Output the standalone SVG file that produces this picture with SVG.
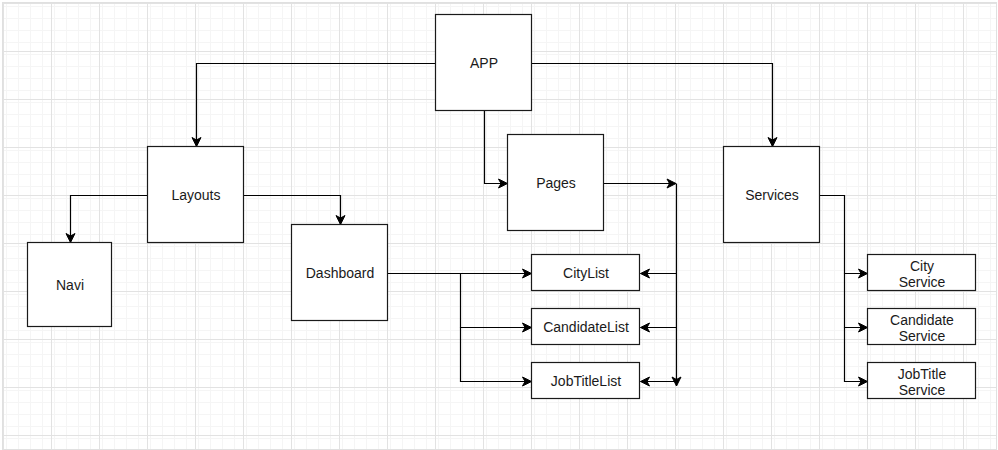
<svg xmlns="http://www.w3.org/2000/svg" width="998" height="450" viewBox="0 0 998 450">
  <style>
    .box { fill: #ffffff; stroke: #1a1a1a; stroke-width: 1.2; }
    .lbl { font-family: "Liberation Sans", Arial, Helvetica, sans-serif; font-size: 14px; fill: #1a1a1a; text-anchor: middle; dominant-baseline: central; }
    .edge { fill: none; stroke: #000000; stroke-width: 1.2; }
  </style>
  <defs>
    <pattern id="minor" x="3" y="3" width="12" height="12" patternUnits="userSpaceOnUse">
      <path d="M0.5,0 V12 M0,0.5 H12" fill="none" stroke="#f5f5f5" stroke-width="1"/>
    </pattern>
    <pattern id="major" x="3" y="3" width="48" height="48" patternUnits="userSpaceOnUse">
      <rect width="48" height="48" fill="url(#minor)"/>
      <path d="M0.5,0 V48 M0,0.5 H48" fill="none" stroke="#e2e2e2" stroke-width="1"/>
    </pattern>
    <marker id="arrow" markerUnits="userSpaceOnUse" markerWidth="12" markerHeight="12" viewBox="-10 -6 12 12" refX="0" refY="0" orient="auto">
      <path d="M0,0 L-9,-4.5 L-6.5,0 L-9,4.5 Z" fill="#000000" stroke="#000000" stroke-width="1" stroke-linejoin="miter"/>
    </marker>
  </defs>

  <rect x="0" y="0" width="998" height="450" fill="#ffffff"/>
  <rect x="3" y="3" width="993" height="446" fill="url(#major)"/>
  <rect x="2.5" y="2.5" width="994" height="447" fill="none" stroke="#e0e0e0" stroke-width="1"/>

  <g id="connectors">
    <path class="edge" d="M435.5,63.5 H196.5 V146.5" marker-end="url(#arrow)"/>
    <path class="edge" d="M531.5,63.5 H772.5 V146.5" marker-end="url(#arrow)"/>
    <path class="edge" d="M484.5,111 V183.5 H507.5" marker-end="url(#arrow)"/>
    <path class="edge" d="M147.5,195.5 H70.5 V242.5" marker-end="url(#arrow)"/>
    <path class="edge" d="M243.5,195.5 H340.5 V224.5" marker-end="url(#arrow)"/>
    <path class="edge" d="M603.5,183.5 H676" marker-end="url(#arrow)"/>
    <path class="edge" d="M676.5,183.5 V386" marker-end="url(#arrow)"/>
    <path class="edge" d="M676.5,273.5 H640.5" marker-end="url(#arrow)"/>
    <path class="edge" d="M676.5,327.5 H640.5" marker-end="url(#arrow)"/>
    <path class="edge" d="M676.5,381.5 H640.5" marker-end="url(#arrow)"/>
    <path class="edge" d="M388,273.5 H460.5 H531.5" stroke-width="1.6" marker-end="url(#arrow)"/>
    <path class="edge" d="M460.5,273.5 V327.5 H531.5" marker-end="url(#arrow)"/>
    <path class="edge" d="M460.5,327.5 V381.5 H531.5" marker-end="url(#arrow)"/>
    <path class="edge" d="M820,195.5 H844.5 V273.5 H867.5" stroke-width="1.6" marker-end="url(#arrow)"/>
    <path class="edge" d="M844.5,273.5 V327.5 H867.5" marker-end="url(#arrow)"/>
    <path class="edge" d="M844.5,327.5 V381.5 H867.5" marker-end="url(#arrow)"/>
  </g>

  <g id="app">
    <rect class="box" x="435.5" y="14.5" width="96" height="96"/>
    <text class="lbl" x="484" y="63">APP</text>
  </g>
  <g id="layouts">
    <rect class="box" x="147.5" y="146.5" width="96" height="96"/>
    <text class="lbl" x="196" y="195">Layouts</text>
  </g>
  <g id="navi">
    <rect class="box" x="27.5" y="242.5" width="84" height="84"/>
    <text class="lbl" x="70" y="285">Navi</text>
  </g>
  <g id="dashboard">
    <rect class="box" x="291.5" y="224.5" width="96" height="96"/>
    <text class="lbl" x="340" y="273">Dashboard</text>
  </g>
  <g id="pages">
    <rect class="box" x="507.5" y="134.5" width="96" height="96"/>
    <text class="lbl" x="556" y="183">Pages</text>
  </g>
  <g id="services">
    <rect class="box" x="723.5" y="146.5" width="96" height="96"/>
    <text class="lbl" x="772" y="195">Services</text>
  </g>
  <g id="citylist">
    <rect class="box" x="531.5" y="254.5" width="108" height="36"/>
    <text class="lbl" x="586" y="273">CityList</text>
  </g>
  <g id="candidatelist">
    <rect class="box" x="531.5" y="308.5" width="108" height="36"/>
    <text class="lbl" x="586" y="327">CandidateList</text>
  </g>
  <g id="jobtitlelist">
    <rect class="box" x="531.5" y="362.5" width="108" height="36"/>
    <text class="lbl" x="586" y="381">JobTitleList</text>
  </g>
  <g id="cityservice">
    <rect class="box" x="867.5" y="254.5" width="108" height="36"/>
    <text class="lbl" x="922" y="265.5">City</text>
    <text class="lbl" x="922" y="282">Service</text>
  </g>
  <g id="candidateservice">
    <rect class="box" x="867.5" y="308.5" width="108" height="36"/>
    <text class="lbl" x="922" y="319.5">Candidate</text>
    <text class="lbl" x="922" y="336">Service</text>
  </g>
  <g id="jobtitleservice">
    <rect class="box" x="867.5" y="362.5" width="108" height="36"/>
    <text class="lbl" x="922" y="373.5">JobTitle</text>
    <text class="lbl" x="922" y="390">Service</text>
  </g>
</svg>
